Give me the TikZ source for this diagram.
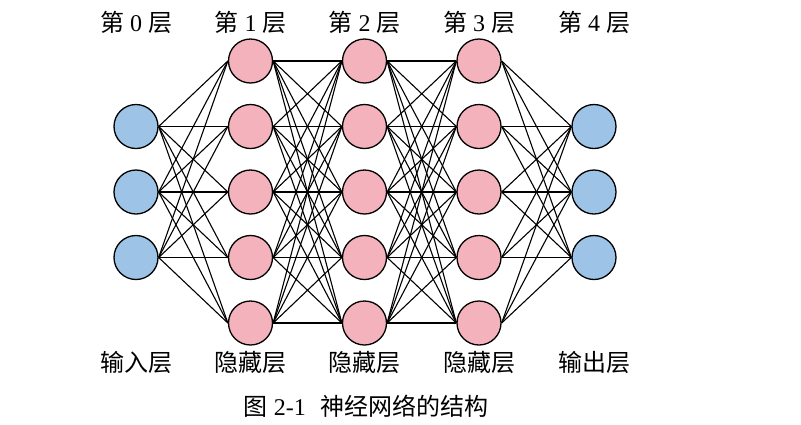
\documentclass[tikz,border=0pt]{standalone}
\usepackage{fontspec}
\setmainfont{Liberation Serif}
\newfontfamily\cjk{Noto Sans CJK SC}
\usetikzlibrary{backgrounds}
\definecolor{inblue}{HTML}{9DC3E6}
\definecolor{hidpink}{HTML}{F4B3BC}
\begin{document}
\begin{tikzpicture}[x=1pt,y=-1pt,
  neuron/.style={circle,draw=black,line width=1.3pt,minimum size=44pt,inner sep=0pt},
  inneuron/.style={neuron,fill=inblue},
  hidneuron/.style={neuron,fill=hidpink},
  conn/.style={line width=1.1pt,draw=black},
  lbl/.style={font=\fontsize{24}{28}\selectfont,inner sep=0pt}]
\useasboundingbox (0,0) rectangle (801,424);
% input layer (rows 2..4)
\foreach \r/\y in {1/126.5,2/192,3/257.5}
  \node[inneuron] (a\r) at (136,\y) {};
% hidden layers
\foreach \r/\y in {1/61,2/126.5,3/192,4/257.5,5/323}{
  \node[hidneuron] (b\r) at (250.5,\y) {};
  \node[hidneuron] (c\r) at (364.5,\y) {};
  \node[hidneuron] (d\r) at (479,\y) {};
}
% output layer
\foreach \r/\y in {1/126.5,2/192,3/257.5}
  \node[inneuron] (e\r) at (594,\y) {};
% connections
\begin{scope}[on background layer]
\foreach \i in {1,2,3}
  \foreach \j in {1,...,5}{
    \draw[conn] (a\i.east) -- (b\j.west);
    \draw[conn] (d\j.east) -- (e\i.west);
  }
\foreach \i in {1,...,5}
  \foreach \j in {1,...,5}{
    \draw[conn] (b\i.east) -- (c\j.west);
    \draw[conn] (c\i.east) -- (d\j.west);
  }
\end{scope}
% top labels
\node[lbl] (t0) at (136,22) {{\cjk 第} 0 {\cjk 层}};
\node[lbl] (t1) at (250.5,22) {{\cjk 第} 1 {\cjk 层}};
\node[lbl] (t2) at (364.5,22) {{\cjk 第} 2 {\cjk 层}};
\node[lbl] (t3) at (479,22) {{\cjk 第} 3 {\cjk 层}};
\node[lbl] (t4) at (594,22) {{\cjk 第} 4 {\cjk 层}};
% bottom labels
\node[lbl] (u0) at (136,362) {\cjk 输入层};
\node[lbl] (u1) at (250.5,362) {\cjk 隐藏层};
\node[lbl] (u2) at (364.5,362) {\cjk 隐藏层};
\node[lbl] (u3) at (479,362) {\cjk 隐藏层};
\node[lbl] (u4) at (594,362) {\cjk 输出层};
% caption
\node[lbl] (cap) at (366,406) {{\cjk 图} 2-1\hspace{0.6em}{\cjk 神经网络的结构}};
\end{tikzpicture}
\end{document}
